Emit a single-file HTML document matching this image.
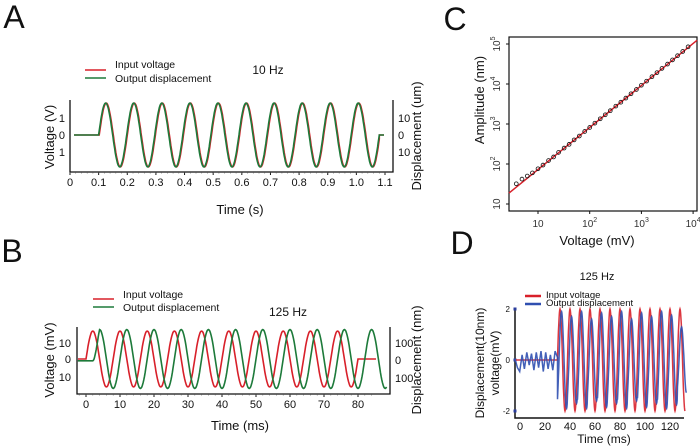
<!DOCTYPE html>
<html><head><meta charset="utf-8"><style>
html,body{margin:0;padding:0;background:#fff}
svg{display:block;font-family:"Liberation Sans",sans-serif}
</style></head><body>
<svg id="fig" width="700" height="447" viewBox="0 0 700 447">
<g id="gA"></g>
<g id="gB"></g>
<g id="gC"></g>
<g id="gD"></g>
</svg>
<script>
// ---- Panel A data ----
const aTicks = ["0","0.1","0.2","0.3","0.4","0.5","0.6","0.7","0.8","0.9","1.0","1.1"];
const aStart = 0.1, aPeriod = 0.098, aCycles = 10;
const aInputAmp = [1.9];
const aOutputAmp = [1.9];
// ---- Panel B data ----
const bTicks = [0,10,20,30,40,50,60,70,80];
const bPeriod = 8, bCycles = 10;
const bInputAmp = [19];
const bOutputAmp = [20];
const bOutputLag = [2];
// ---- Panel C data ----
const cVoltage = [3.8,4.9,6.2,7.8,10,12.5,16,20,25,32,40,50,63,80,100,126,160,200,250,320,400,500,630,800,1000,1260,1600,2000,2500,3200,4000,5000,6300,8000];
const cAmplitude = [32,42,50,60,76,94,122,150,195,250,310,400,500,650,820,1050,1350,1700,2150,2800,3500,4450,5700,7300,9300,11800,15200,19200,24500,31500,40000,51000,65000,85000];
const cFitSlope = [1.05], cFitAt10 = [73];
// ---- Panel D data ----
const dTicks = [0,20,40,60,80,100,120];
const dOnset = 30, dEnd = 132, dPeriod = 8;
const dInputAmp = [2];
const dBlueNoise = [0.05,-0.3,-0.45,0.2,-0.35,0.3,-0.2,0.25,-0.4,0.3,-0.3,0.35,-0.45,0.3,-0.35,0.2,-0.4,0.35,0.1];
const dBlueAmp = [1.9,1.7,1.9,1.6,1.85,1.7,1.9,1.6,1.85,1.7,1.9,1.75,1.3];

const NS="http://www.w3.org/2000/svg";
function mk(parent,tag,attrs,text){const e=document.createElementNS(NS,tag);for(const k in attrs)e.setAttribute(k,attrs[k]);if(text!==undefined)e.textContent=text;parent.appendChild(e);return e;}
function txt(p,x,y,s,size,anchor,rot){const a={x:x,y:y,'font-size':size,'text-anchor':anchor||'middle',fill:'#111'};if(rot)a.transform=`rotate(${rot} ${x} ${y})`;return mk(p,'text',a,s);}
function pathFrom(pts){return pts.map((p,i)=>(i?'L':'M')+p[0].toFixed(1)+' '+p[1].toFixed(1)).join('');}

// ===== Panel A =====
(function(){
const g=document.getElementById('gA');
const L=70,R=393,T=100,B=172,x0=70,x1=385,t1=1.1,y0=135,ys=16.8;
const X=t=>x0+(x1-x0)*t/t1, Y=v=>y0-v*ys;
let e=txt(g,14,28,"A",32);
e=mk(g,'path',{d:`M${L} ${T}V${B}H${R}V${T}`,fill:'none',stroke:'#111','stroke-width':1.3});

aTicks.forEach((s,i)=>{const x=X(parseFloat(s));mk(g,'line',{x1:x,y1:B,x2:x,y2:B+3,stroke:'#111'});
 const t=txt(g,x,186,s,11);});
for(let i=0;i<=55;i++){const x=X(i*0.02);mk(g,'line',{x1:x,y1:B,x2:x,y2:B+1.5,stroke:'#555','stroke-width':0.6});}
[["1",-1],["0",0],["1",1]].forEach(([s,k])=>{txt(g,65,Y(-k)+4,s,11,'end');});
[["10",-1],["0",0],["10",1]].forEach(([s,k])=>{txt(g,398,Y(-k)+4,s,11,'start');});
e=txt(g,54,137,"Voltage (V)",13,'middle',-90);
e=txt(g,421,136,"Displacement (um)",13,'middle',-90);
e=txt(g,240,214,"Time (s)",13);
e=txt(g,268,74,"10 Hz",12);
function series(amp,color,dx){const pts=[[74,Y(0)],[X(aStart),Y(0)]];const tEnd=aStart+aCycles*aPeriod;
 for(let t=aStart;t<=tEnd;t+=0.002)pts.push([X(t)+dx,Y(amp*Math.sin(2*Math.PI*(t-aStart)/aPeriod))]);
 pts.push([X(tEnd),Y(0)],[384,Y(0)]);return mk(g,'path',{d:pathFrom(pts),fill:'none',stroke:color,'stroke-width':1.6});}
e=series(aInputAmp[0],'#d8202a',0.6);
e=series(aOutputAmp[0],'#1d7a3a',0);
mk(g,'line',{x1:85,y1:70,x2:106,y2:70,stroke:'#d8202a','stroke-width':1.5});
mk(g,'line',{x1:85,y1:78,x2:106,y2:78,stroke:'#1d7a3a','stroke-width':1.5});
e=txt(g,115,68,"Input voltage",10.5,'start');
e=txt(g,115,82,"Output displacement",10.5,'start');
})();

// ===== Panel B =====
(function(){
const g=document.getElementById('gB');
const L=77,R=390,T=327,B=394,x0=86,x1=358,y0=359;
const X=t=>x0+(x1-x0)*t/80, Y=v=>y0-v*1.47;
let e=txt(g,12,262,"B",32);
e=mk(g,'path',{d:`M${L} ${T}V${B}H${R}V${T}`,fill:'none',stroke:'#111','stroke-width':1.3});

bTicks.forEach(v=>{const x=X(v);mk(g,'line',{x1:x,y1:B,x2:x,y2:B+3,stroke:'#111'});
 const t=txt(g,x,408,String(v),11);});
for(let v=-2;v<=84;v+=2){const x=X(v);mk(g,'line',{x1:x,y1:B,x2:x,y2:B+1.5,stroke:'#555','stroke-width':0.6});}
txt(g,71,347,"10",11,'end');txt(g,71,363,"0",11,'end');txt(g,71,381,"10",11,'end');
txt(g,395,347,"100",11,'start');txt(g,395,364,"0",11,'start');txt(g,395,382,"100",11,'start');
e=txt(g,54,360,"Voltage (mV)",13,'middle',-90);
e=txt(g,421,360,"Displacement (nm)",13,'middle',-90);
e=txt(g,240,430,"Time (ms)",13);
e=txt(g,288,316,"125 Hz",12);
// input
let pts=[[78,Y(0)],[X(0),Y(0)]];const tEnd=bCycles*bPeriod;
for(let i=0;i<=tEnd*5;i++){const t=i/5;pts.push([X(t),Y(bInputAmp[0]*Math.sin(2*Math.PI*t/bPeriod))]);}
pts.push([376,Y(0)]);
e=mk(g,'path',{d:pathFrom(pts),fill:'none',stroke:'#d8202a','stroke-width':1.6});

// output
pts=[];const lag=bOutputLag[0];
for(let t=-2.4;t<=88.5;t+=0.2){const env=Math.min(1,Math.max(0,(t-2)/2));const yv=-1.2+env*(1.2+bOutputAmp[0]*Math.sin(2*Math.PI*(t-lag)/bPeriod));pts.push([X(t),Y(yv)]);}
e=mk(g,'path',{d:pathFrom(pts),fill:'none',stroke:'#1d7a3a','stroke-width':1.6});

mk(g,'line',{x1:93,y1:299,x2:114,y2:299,stroke:'#d8202a','stroke-width':1.5});
mk(g,'line',{x1:93,y1:307,x2:114,y2:307,stroke:'#1d7a3a','stroke-width':1.5});
e=txt(g,123,298,"Input voltage",10.5,'start');
e=txt(g,123,311,"Output displacement",10.5,'start');
})();

// ===== Panel C =====
(function(){
const g=document.getElementById('gC');
const L=509,R=697,T=37,B=211;
const X=v=>538+(Math.log10(v)-1)*51.7, Y=a=>204-(Math.log10(a)-1)*40;
let e=txt(g,455,30,"C",32);
e=mk(g,'rect',{x:L,y:T,width:R-L,height:B-T,fill:'none',stroke:'#111','stroke-width':1.2});

[[10,"10",""],[100,"10","2"],[1000,"10","3"],[10000,"10","4"]].forEach(([v,b,s])=>{const x=X(v);mk(g,'line',{x1:x,y1:B,x2:x,y2:B+3,stroke:'#111'});
 const t=mk(g,'text',{x:x,y:227,'font-size':10,'text-anchor':'middle',fill:'#333'});t.textContent=b;
 if(s){const ts=mk(t,'tspan',{dy:-5,'font-size':7});ts.textContent=s;}
 });
[[10,"10",""],[100,"10","2"],[1000,"10","3"],[10000,"10","4"],[100000,"10","5"]].forEach(([v,b,s])=>{const y=Y(v);mk(g,'line',{x1:L-3,y1:y,x2:L,y2:y,stroke:'#111'});
 const t=mk(g,'text',{x:500,y:y,'font-size':10,'text-anchor':'middle',fill:'#333',transform:`rotate(-90 500 ${y})`});t.textContent=b;
 if(s){const ts=mk(t,'tspan',{dy:-5,'font-size':7});ts.textContent=s;}
 });
e=txt(g,484,100,"Amplitude (nm)",13,'middle',-90);
e=txt(g,597,245,"Voltage (mV)",13);
const fit=v=>cFitAt10[0]*Math.pow(v/10,cFitSlope[0]);
const va=Math.pow(10,(L-538)/51.7+1), vb=Math.pow(10,(R-538)/51.7+1);
e=mk(g,'line',{x1:L,y1:Y(fit(va)),x2:R,y2:Y(fit(vb)),stroke:'#d8202a','stroke-width':1.5});

cVoltage.forEach((v,i)=>{const c=mk(g,'circle',{cx:X(v),cy:Y(cAmplitude[i]),r:1.9,fill:'none',stroke:'#111','stroke-width':0.8});
 });
})();

// ===== Panel D =====
(function(){
const g=document.getElementById('gD');
const L=515,B=418,T=310,XR=684;
const X=t=>520+(670-520)*t/120, Y=v=>360-v*25.5;
let e=txt(g,462,254,"D",32);
e=mk(g,'path',{d:`M${L} ${T}V${B}H${XR}`,fill:'none',stroke:'#111','stroke-width':1.5});

dTicks.forEach(v=>{const t=txt(g,X(v),430,String(v),11);});
[["2",2],["0",0],["-2",-2]].forEach(([s,v])=>{txt(g,510,Y(v)+3,s,8,'end');mk(g,'rect',{x:L-1.5,y:Y(v)-1.5,width:3,height:3,fill:'#2a3c9c'});});
e=txt(g,604,443,"Time (ms)",12);
e=txt(g,484,363,"Displacement(10nm)",12,'middle',-90);
e=txt(g,499,363,"voltage(mV)",12,'middle',-90);
e=txt(g,597,280,"125 Hz",11);
// red
let pts=[[X(-4),Y(0)],[X(dOnset),Y(0)]];
for(let t=dOnset;t<=dEnd;t+=0.25)pts.push([X(t),Y(dInputAmp[0]*Math.sin(2*Math.PI*(t-dOnset)/dPeriod))]);
e=mk(g,'path',{d:pathFrom(pts),fill:'none',stroke:'#d8202a','stroke-width':1.5,opacity:0.9});

// blue
pts=[];const step=(dOnset+4)/(dBlueNoise.length-1);
dBlueNoise.forEach((v,i)=>pts.push([X(-4+i*step),Y(v)]));
for(let t=dOnset;t<=dEnd+1;t+=0.25){const c=Math.min(dBlueAmp.length-1,Math.floor((t-dOnset)/dPeriod));pts.push([X(t),Y(dBlueAmp[c]*Math.sin(2*Math.PI*(t-dOnset-1.2)/dPeriod))]);}
e=mk(g,'path',{d:pathFrom(pts),fill:'none',stroke:'#2f4fb0','stroke-width':1.5,opacity:0.9});

mk(g,'line',{x1:525,y1:296,x2:541,y2:296,stroke:'#d8202a','stroke-width':2.5});
mk(g,'line',{x1:525,y1:304,x2:541,y2:304,stroke:'#2f4fb0','stroke-width':2.5});
e=txt(g,546,298,"Input voltage",9.5,'start');
e=txt(g,546,306,"Output displacement",9.5,'start');
})();
</script>
</body></html>
